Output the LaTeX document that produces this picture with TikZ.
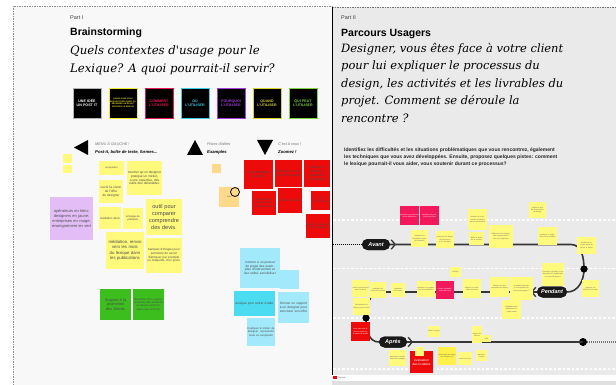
\documentclass[tikz,border=0pt]{standalone}
\usepackage{fontspec}
\setmainfont{Liberation Sans}
\newfontfamily\slabfont{DejaVu Serif}
\usetikzlibrary{positioning}

\definecolor{boardbg}{HTML}{F8F8F8}
\definecolor{panelbg}{HTML}{EAEAEA}
\definecolor{postit}{HTML}{FFF97C}
\definecolor{postitdeep}{HTML}{FFF04A}
\definecolor{postitred}{HTML}{EC0A0A}
\definecolor{postitpink}{HTML}{F3175C}
\definecolor{postitblue}{HTML}{A2EAFB}
\definecolor{postitcyan}{HTML}{4CDCF2}
\definecolor{postitgreen}{HTML}{3CBE1E}
\definecolor{postitmauve}{HTML}{E3BEF6}
\definecolor{postitorange}{HTML}{FDD98A}
\definecolor{trailgray}{HTML}{363636}
\definecolor{tilegray}{HTML}{B4B4B4}
\definecolor{tileyellow}{HTML}{F2E82C}
\definecolor{tilecrimson}{HTML}{E8194F}
\definecolor{tilecyan}{HTML}{3CCBE3}
\definecolor{tilepurple}{HTML}{A53CDB}
\definecolor{tileolive}{HTML}{D9D232}
\definecolor{tilegreen}{HTML}{7FD63C}

\begin{document}
\begin{tikzpicture}[x=1pt,y=-1pt,node distance=36pt,on grid,
    note/.style 2 args={rectangle, inner sep=0pt, minimum width=#1pt,
      minimum height=#2pt, text width=#1pt, align=center,
      font=\fontsize{3.2}{3.9}\selectfont, text=black!70},
    yellownote/.style={fill=postit},
    deepnote/.style={fill=postitdeep},
    rednote/.style={fill=postitred, text=white!80!postitred},
    pinknote/.style={fill=postitpink, text=white!85!postitpink},
    bluenote/.style={fill=postitblue},
    cyannote/.style={fill=postitcyan},
    greennote/.style={fill=postitgreen, text=black!75},
    mauvenote/.style={fill=postitmauve},
    orangenote/.style={fill=postitorange},
    mini/.style={font=\fontsize{1.8}{2.2}\selectfont, text=black!60},
    tile/.style={fill=black, draw=#1, text=#1, line width=0.9pt,
      minimum width=28pt, minimum height=30pt, text width=26pt,
      inner sep=0pt, align=center, font=\bfseries\fontsize{3.6}{4.3}\selectfont},
    pill/.style={fill=black!90, text=white, rounded corners=5.5pt,
      minimum height=11pt, inner sep=0pt,
      font=\bfseries\itshape\fontsize{5.5}{6}\selectfont},
    chevron/.style={draw=trailgray, line width=1.3pt},
    dot/.style={circle, fill=black, inner sep=0pt, minimum size=7pt},
    trail/.style={draw=trailgray, line width=1.6pt},
    lane/.style={draw=white, line width=1.3pt, dash pattern=on 2.5pt off 2pt},
    hint/.style={anchor=base west, inner sep=0pt, text=black!55,
      font=\itshape\fontsize{3.8}{4}\selectfont},
    hintbold/.style={anchor=base west, inner sep=0pt,
      font=\bfseries\itshape\fontsize{4.2}{4.5}\selectfont}]

  \useasboundingbox (0,0) rectangle (616,385);
  \fill[white] (0,0) rectangle (616,385);

  % part I board
  \fill[boardbg] (13,6) rectangle (332,385);
  \draw[black!45, dash pattern=on 1.5pt off 1pt, line width=0.6pt] (13,385) |- (332,6);

  \node[anchor=base west, inner sep=0pt, text=black!75,
    font=\fontsize{5.5}{6}\selectfont] (tag1) at (70,20) {Part I};
  \node[anchor=base west, inner sep=0pt,
    font=\bfseries\fontsize{10.5}{12}\selectfont] (title1) at (70,36) {Brainstorming};
  \node[anchor=north west, inner sep=0pt, align=left,
    font=\slabfont\itshape\fontsize{11.7}{17.5}\selectfont] (ask1) at (70,45.5)
    {Quels contextes d'usage pour le\\Lexique? A quoi pourrait-il servir?};

  % question tiles
  \node[tile=tilegray, text=white] (idea) at (87,103) {UNE IDÉE UN POST IT};
  \node[tile=tileyellow, font=\bfseries\fontsize{2}{2.5}\selectfont]
    (quand1) [right=of idea] {QUAND AVEZ-VOUS BESOIN D'EXPLIQUER OU DÉFENDRE UN DEVIS? DÉCRIVEZ LE BESOIN};
  \node[tile=tilecrimson] (comment) [right=of quand1] {COMMENT L'UTILISER};
  \node[tile=tilecyan] (ou) [right=of comment] {OÙ L'UTILISER};
  \node[tile=tilepurple] (pourquoi) [right=of ou] {POURQUOI L'UTILISER};
  \node[tile=tileolive] (quand) [right=of pourquoi] {QUAND L'UTILISER};
  \node[tile=tilegreen] (qui) [right=of quand] {QUI PEUT L'UTILISER};

  % menu hints
  \fill (88,140) -- (74,147.5) -- (88,155) -- cycle;
  \node[hint] (menu) at (95,146) {MENU À GAUCHE !};
  \node[hintbold] (menub) at (95,153.5) {Post-it, boîte de texte, formes...};
  \fill (195,140) -- (203,155) -- (187,155) -- cycle;
  \node[hint] (pistes) at (207,146) {Pistes d'idées};
  \node[hintbold] (pistesb) at (207,153.5) {Examples};
  \fill (257,140) -- (273,140) -- (265,155) -- cycle;
  \node[hint] (avous) at (278,146) {C'est à vous !};
  \node[hintbold] (avousb) at (278,153.5) {Zoomez !};

  % yellow notes
  \node[yellownote, note={9}{9}] (ya) at (67.5,158.5) {};
  \node[yellownote, note={9}{8}] (yb) at (67.5,169) {};
  \node[yellownote, note={25}{14}, font=\fontsize{2.4}{3}\selectfont] (accept) at (111.5,168) {acceptation};
  \node[yellownote, note={35}{34}] (metier) at (144.5,178)
    {montrer qu'un designer pratique un métier, a une expertise, des outils des délivrables.};
  \node[yellownote, note={24}{23}] (vision) at (111,191.5) {ouvrir la vision de l'offre du designer};
  \node[yellownote, note={22}{22}, font=\fontsize{2.8}{3.6}\selectfont] (medev) at (110,218) {médiation devis};
  \node[yellownote, note={20}{21}, font=\fontsize{2.6}{3.2}\selectfont] (echange) at (133,218.5) {échange de pratiques};
  \node[yellownote, note={36}{36}, font=\fontsize{5.6}{6.8}\selectfont] (outil) at (164,217)
    {outil pour comparer comprendre des devis.};
  \node[yellownote, note={38}{37}, font=\fontsize{4.3}{5.4}\selectfont] (renvoi) at (125,250.5)
    {médiation, renvoi vers les mots du lexique dans les publications};
  \node[yellownote, note={36}{35}, font=\fontsize{3}{3.8}\selectfont] (banques) at (164,255.5)
    {banques d'images pour permettre de savoir distinguer par exemple un maquette, d'un proto.};

  \node[mauvenote, note={43}{43}, font=\fontsize{4}{5}\selectfont] (legende) at (71.5,218.5)
    {opérateurs en bleu; designers en jaune; entreprises en rouge; enseignement en vert};

  \node[greennote, note={31}{31}, font=\fontsize{3.9}{4.9}\selectfont] (filieres) at (115.5,304.5)
    {Support à la promotion des filières};
  \node[greennote, note={31}{31}, font=\fontsize{2.7}{3.4}\selectfont] (etudiants) at (148.5,304.5)
    {Bénéficier d'un support ensemble des étudiants en design (uniformisation des termes?)};

  \node[orangenote, note={9}{9}] (oa) at (216.5,168.5) {};
  \node[orangenote, note={20}{20}, font=\fontsize{2}{2.5}\selectfont] (test) at (229,197) {test};
  \draw[line width=0.8pt] (235,192) circle (4.5pt);

  % red notes
  \node[rednote, note={29}{29}, font=\fontsize{3.4}{4.3}\selectfont] (comprehension) at (258.5,174.5)
    {compréhension de devis};
  \node[rednote, note={27}{27}] (equipe) at (288.5,173.5) {Expliquer un projet à une équipe};
  \node[rednote, note={26}{27}] (briefing) at (317,173.5) {Réaliser un briefing à destination d'un designer};
  \node[rednote, note={24}{24}, font=\fontsize{2.8}{3.5}\selectfont] (comparer) at (264,203)
    {Comprendre un devis, comparer des devis};
  \node[rednote, note={24}{25}] (lecture) at (290,200.5) {lecture de devis};
  \node[rednote, note={19}{19}, font=\fontsize{2.4}{3}\selectfont] (valeur) at (320.5,200.5)
    {concevoir l'espace valeur};
  \node[rednote, note={24}{24}, font=\fontsize{2.8}{3.5}\selectfont] (demande) at (318,226)
    {savoir ce qui peut être demandé};

  % blue notes
  \node[bluenote, note={40}{40}] (porteur) at (260,268)
    {montrer à un porteur de projet des exemples d'intervention et leur utilité; sensibiliser};
  \node[bluenote, note={19}{19}] (bb) at (289.5,279.5) {};
  \node[cyannote, note={41}{25}] (analyse) at (254.5,303.5) {analyse pour entrer d'aide};
  \node[bluenote, note={31}{31}] (offre) at (293.5,307.5)
    {Donner un support à un designer pour structurer son offre};
  \node[bluenote, note={28}{28}, font=\fontsize{2.7}{3.4}\selectfont] (complexite) at (261,332)
    {Expliquer le métier de designer: représenter toute sa complexité};

  % part II panel
  \fill[panelbg] (332,7.5) rectangle (616,375);
  \fill[black!12] (332,380.5) rectangle (616,385);
  \draw[black!55, dash pattern=on 1.5pt off 1pt, line width=0.6pt] (332,7.5) -- (616,7.5);
  \draw[black, line width=0.9pt] (332,7.5) -- (332,375);

  \node[anchor=base west, inner sep=0pt, text=black!75,
    font=\fontsize{5.5}{6}\selectfont] (tag2) at (341,20) {Part II};
  \node[anchor=base west, inner sep=0pt,
    font=\bfseries\fontsize{10.5}{12}\selectfont] (title2) at (341,36.5) {Parcours Usagers};
  \node[anchor=north west, inner sep=0pt, align=left,
    font=\slabfont\itshape\fontsize{11.5}{17.5}\selectfont] (ask2) at (341,43)
    {Designer, vous êtes face à votre client\\pour lui expliquer le processus du\\
     design, les activités et les livrables du\\projet. Comment se déroule la\\rencontre ?};
  \node[anchor=north west, inner sep=0pt, align=left, text=black!85,
    font=\bfseries\fontsize{5}{7}\selectfont] (consigne) at (344,147.5)
    {Identifiez les difficultés et les situations problématiques que vous rencontrez, également\\
     les techniques que vous avez développées. Ensuite, proposez quelques pistes: comment\\
     le lexique pourrait-il vous aider, vous soutenir durant ce processus?};

  % swim lanes
  \foreach \y in {220,268.5,318,369}
    \draw[lane] (333,\y) -- (616,\y);

  % journey
  \node[pill, minimum width=28pt] (avant) at (376,244.5) {Avant};
  \node[pill, minimum width=30pt] (pendant) at (552,292) {Pendant};
  \node[pill, minimum width=28pt] (apres) at (393,342) {Après};
  \node[dot] (dotR) at (584,269) {};
  \node[dot] (dotL) at (366,318) {};
  \node[dot, minimum size=8pt] (dotE) at (583,342) {};
  \coordinate (startA) at (333,244.5);
  \coordinate (tR) at (571,244.5);
  \coordinate (tL) at (381,292);
  \coordinate (endE) at (616,342);

  \draw[black, line width=1.2pt, dash pattern=on 1pt off 1pt] (startA) -- (avant.west);
  \draw[trail] (avant.east) -- (tR) to[out=0,in=90] (dotR.center)
    to[out=-90,in=0] (pendant.east);
  \draw[trail] (pendant.west) -- (tL) to[out=180,in=90] (dotL.center)
    to[out=-90,in=180] (apres.west);
  \draw[trail] (apres.east) -- (dotE.center);
  \draw[black!55, line width=1.2pt, dash pattern=on 1pt off 1pt] (dotE) -- (endE);

  \node[pill, minimum width=28pt] at (avant) {Avant};
  \node[pill, minimum width=30pt] at (pendant) {Pendant};
  \node[pill, minimum width=28pt] at (apres) {Après};
  \node[dot] at (dotR) {};
  \node[dot] at (dotL) {};
  \draw[chevron] ([xshift=1pt,yshift=-1pt]avant.north east) -- ([xshift=5pt]avant.east)
    -- ([xshift=1pt,yshift=1pt]avant.south east);
  \draw[chevron] ([xshift=-1pt,yshift=-1pt]pendant.north west) -- ([xshift=-5pt]pendant.west)
    -- ([xshift=-1pt,yshift=1pt]pendant.south west);
  \draw[chevron] ([xshift=1pt,yshift=-1pt]apres.north east) -- ([xshift=5pt]apres.east)
    -- ([xshift=1pt,yshift=1pt]apres.south east);

  % notes along the journey
  \node[pinknote, note={19}{19}, mini, text=white!85] (pk1) at (409.5,215.5) {présenter son parcours et ses références};
  \node[pinknote, note={19}{19}, mini, text=white!85] (pk2) at (429.5,215.5) {identifier les problèmes du client};
  \node[yellownote, note={19}{21}, mini] (n1) at (477.5,219.5) {analyse de la demande, échanges autour des besoins};
  \node[yellownote, note={17}{16}, mini] (n2) at (537.5,210) {justifier le prix de l'intervention du design};
  \node[yellownote, note={17}{17}, mini] (n3) at (419.5,238.5) {reformuler la demande à partir des attentes};
  \node[yellownote, note={18}{17}, mini] (n4) at (445,239.5) {présenter les étapes du processus et les livrables};
  \node[yellownote, note={15}{13}, mini] (n5) at (476.5,238.5) {définir le cadre de la mission};
  \node[yellownote, note={24}{23}, mini] (n6) at (501,236.5) {Différencier les étapes, faire comprendre le rôle des maquettes};
  \node[yellownote, note={19}{18}, mini] (n7) at (547.5,236) {présenter le calendrier et les livrables};
  \node[yellownote, note={19}{17}, mini] (n8) at (586.5,245.5) {valider les attentes avant de lancer le projet};
  \node[yellownote, note={11}{10}, mini] (n9) at (455.5,272) {briefing};
  \node[yellownote, note={17}{17}, mini] (n10) at (360.5,288.5) {suivre l'avancement avec le client};
  \node[yellownote, note={16}{16}, mini] (n11) at (378,290) {expliquer les choix et les pistes};
  \node[yellownote, note={14}{14}, mini] (n12) at (398,290) {organiser les retours};
  \node[yellownote, note={18}{16}, mini] (n13) at (426,289) {présenter les maquettes intermédiaires};
  \node[pinknote, note={18}{18}, mini, text=white!85] (pk3) at (445,290) {retours contradictoires du client};
  \node[yellownote, note={18}{19}, mini] (n14) at (472,288.5) {adapter le vocabulaire au client};
  \node[yellownote, note={19}{20}, mini] (n15) at (499.5,287) {illustrer par des exemples de projets};
  \node[yellownote, note={23}{23}, mini] (n16) at (521.5,288.5) {Comment répondre à une question du client sans jargon ?};
  \node[yellownote, note={22}{23}, mini] (n17) at (553,274.5) {Comment répondre à une demande de modification en cours de projet ?};
  \node[yellownote, note={17}{17}, mini] (n18) at (590.5,288.5) {négocier les délais et les coûts};
  \node[yellownote, note={17}{17}, mini] (n19) at (361.5,306.5) {Documenter les étapes pour le client};
  \node[yellownote, note={19}{19}, mini] (n20) at (511.5,309.5) {Expliquer quels délivrables et à quel stade};
  \node[rednote, note={19}{19}, mini, text=white!85] (r21) at (360.5,331.5) {livrer sans que le client comprenne la valeur du travail};
  \node[yellownote, note={12}{11}, mini] (n21) at (434,331.5) {bilan du projet};
  \node[yellownote, note={10}{17}, mini] (n22) at (477,334.5) {remise des fichiers};
  \node[yellownote, note={9}{7}, mini] (n23) at (486.5,338.5) {suivi};
  \node[yellownote, note={17}{16}, mini] (n24) at (397.5,358) {présenter le rendu final et les usages};
  \node[rednote, note={23}{22}, font=\fontsize{3.2}{4}\selectfont, text=white!85] (livrables) at (421.5,362)
    {évaluation des livrables};
  \node[yellownote, note={9}{9}] (n25) at (419.5,351.5) {};
  \node[deepnote, note={18}{18}, mini] (n26) at (447,356) {transmettre les droits des livrables (?)};
  \node[yellownote, note={14}{13}, mini] (n27) at (465,358.5) {retour du client};
  \node[yellownote, note={11}{11}, mini] (n28) at (481.5,355.5) {garder le contact};

  \fill[postitred] (333,375.8) rectangle (337,379.2);
  \node[anchor=west, inner sep=0pt, text=black!60, font=\fontsize{2}{2.4}\selectfont] (cle) at (338.5,377.5) {légende};
\end{tikzpicture}
\end{document}
